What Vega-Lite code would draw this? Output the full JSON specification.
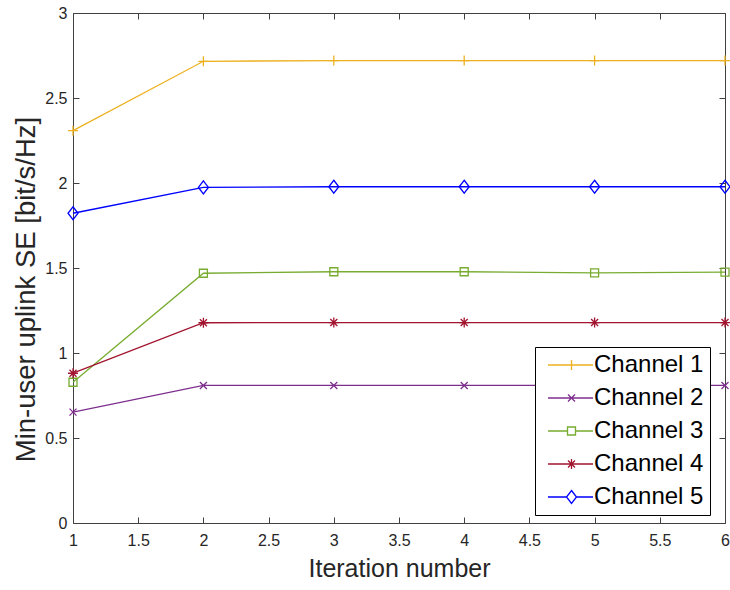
{
  "$schema": "https://vega.github.io/schema/vega-lite/v6.json",
  "width": 652,
  "height": 510,
  "autosize": {"type": "none"},
  "padding": {"left": 73, "top": 13, "right": 5, "bottom": 67},
  "background": "white",
  "data": {"values": [
    {"iter": 1, "channel": "Channel 1", "se": 2.308},
    {"iter": 2, "channel": "Channel 1", "se": 2.716},
    {"iter": 3, "channel": "Channel 1", "se": 2.72},
    {"iter": 4, "channel": "Channel 1", "se": 2.72},
    {"iter": 5, "channel": "Channel 1", "se": 2.72},
    {"iter": 6, "channel": "Channel 1", "se": 2.72},
    {"iter": 1, "channel": "Channel 2", "se": 0.652},
    {"iter": 2, "channel": "Channel 2", "se": 0.809},
    {"iter": 3, "channel": "Channel 2", "se": 0.809},
    {"iter": 4, "channel": "Channel 2", "se": 0.809},
    {"iter": 5, "channel": "Channel 2", "se": 0.809},
    {"iter": 6, "channel": "Channel 2", "se": 0.809},
    {"iter": 1, "channel": "Channel 3", "se": 0.828},
    {"iter": 2, "channel": "Channel 3", "se": 1.469},
    {"iter": 3, "channel": "Channel 3", "se": 1.478},
    {"iter": 4, "channel": "Channel 3", "se": 1.478},
    {"iter": 5, "channel": "Channel 3", "se": 1.471},
    {"iter": 6, "channel": "Channel 3", "se": 1.476},
    {"iter": 1, "channel": "Channel 4", "se": 0.881},
    {"iter": 2, "channel": "Channel 4", "se": 1.178},
    {"iter": 3, "channel": "Channel 4", "se": 1.179},
    {"iter": 4, "channel": "Channel 4", "se": 1.179},
    {"iter": 5, "channel": "Channel 4", "se": 1.179},
    {"iter": 6, "channel": "Channel 4", "se": 1.179},
    {"iter": 1, "channel": "Channel 5", "se": 1.822},
    {"iter": 2, "channel": "Channel 5", "se": 1.974},
    {"iter": 3, "channel": "Channel 5", "se": 1.978},
    {"iter": 4, "channel": "Channel 5", "se": 1.978},
    {"iter": 5, "channel": "Channel 5", "se": 1.978},
    {"iter": 6, "channel": "Channel 5", "se": 1.978}
  ]},
  "encoding": {
    "x": {"field": "iter", "type": "quantitative",
          "scale": {"domain": [1, 6], "nice": false, "zero": false}},
    "y": {"field": "se", "type": "quantitative",
          "scale": {"domain": [0, 3], "nice": false}},
    "color": {"field": "channel", "type": "nominal",
              "scale": {"domain": ["Channel 1", "Channel 2", "Channel 3", "Channel 4", "Channel 5"],
                        "range": ["#EDB120", "#7E2F8E", "#77AC30", "#A2142F", "#0000FF"]}}
  },
  "layer": [
    {
      "mark": {"type": "line", "strokeWidth": 1.3, "clip": false},
      "encoding": {
        "x": {"field": "iter", "type": "quantitative",
              "axis": {"orient": "bottom", "title": "Iteration number", "ticks": false,
                       "values": [1, 1.5, 2, 2.5, 3, 3.5, 4, 4.5, 5, 5.5, 6],
                       "format": "~g", "labelPadding": 9, "titlePadding": 8, "titleFontSize": 25}},
        "y": {"field": "se", "type": "quantitative",
              "axis": {"orient": "left", "title": "Min-user uplink SE [bit/s/Hz]", "ticks": false,
                       "values": [0, 0.5, 1, 1.5, 2, 2.5, 3],
                       "format": "~g", "labelPadding": 6, "titlePadding": 4,
                       "titleFontSize": 27.5, "titleY": 276}}
      }
    },
    {
      "transform": [{"filter": "datum.channel == 'Channel 1'"}],
      "mark": {"type": "point", "filled": false, "size": 100, "strokeWidth": 1.3, "opacity": 1, "clip": false,
               "shape": "M-1,0H1M0,-1V1"},
      "encoding": {
        "x": {"field": "iter", "type": "quantitative",
              "axis": {"orient": "top", "offset": -510, "title": null, "labels": false, "domain": false, "ticks": true,
                       "values": [1, 1.5, 2, 2.5, 3, 3.5, 4, 4.5, 5, 5.5, 6]}},
        "y": {"field": "se", "type": "quantitative",
              "axis": {"orient": "right", "offset": -652, "title": null, "labels": false, "domain": false, "ticks": true,
                       "values": [0, 0.5, 1, 1.5, 2, 2.5, 3]}}
      }
    },
    {
      "transform": [{"filter": "datum.channel == 'Channel 2'"}],
      "mark": {"type": "point", "filled": false, "size": 100, "strokeWidth": 1.3, "opacity": 1, "clip": false,
               "shape": "M-0.7,-0.7L0.7,0.7M-0.7,0.7L0.7,-0.7"},
      "encoding": {
        "x": {"field": "iter", "type": "quantitative",
              "axis": {"orient": "bottom", "offset": -510, "title": null, "labels": false, "domain": true, "ticks": true,
                       "values": [1, 1.5, 2, 2.5, 3, 3.5, 4, 4.5, 5, 5.5, 6]}},
        "y": {"field": "se", "type": "quantitative",
              "axis": {"orient": "left", "offset": -652, "title": null, "labels": false, "domain": true, "ticks": true,
                       "values": [0, 0.5, 1, 1.5, 2, 2.5, 3]}}
      }
    },
    {
      "transform": [{"filter": "datum.channel == 'Channel 3'"}],
      "mark": {"type": "point", "filled": false, "size": 100, "strokeWidth": 1.3, "opacity": 1, "clip": false,
               "shape": "M-0.8,-0.8H0.8V0.8H-0.8Z"},
      "encoding": {
        "x": {"field": "iter", "type": "quantitative", "axis": null},
        "y": {"field": "se", "type": "quantitative", "axis": null}
      }
    },
    {
      "transform": [{"filter": "datum.channel == 'Channel 4'"}],
      "mark": {"type": "point", "filled": false, "size": 100, "strokeWidth": 1.3, "opacity": 1, "clip": false,
               "shape": "M-1,0H1M0,-1V1M-0.7,-0.7L0.7,0.7M-0.7,0.7L0.7,-0.7"},
      "encoding": {
        "x": {"field": "iter", "type": "quantitative", "axis": null},
        "y": {"field": "se", "type": "quantitative", "axis": null}
      }
    },
    {
      "transform": [{"filter": "datum.channel == 'Channel 5'"}],
      "mark": {"type": "point", "filled": false, "size": 100, "strokeWidth": 1.3, "opacity": 1, "clip": false,
               "shape": "M0,-1.3L1,0L0,1.3L-1,0Z"},
      "encoding": {
        "x": {"field": "iter", "type": "quantitative", "axis": null},
        "y": {"field": "se", "type": "quantitative", "axis": null}
      }
    },
    {
      "mark": {"type": "point", "filled": false, "opacity": 0, "size": 100, "strokeWidth": 1.3},
      "encoding": {
        "x": {"field": "iter", "type": "quantitative", "axis": null},
        "y": {"field": "se", "type": "quantitative", "axis": null},
        "shape": {"field": "channel", "type": "nominal",
                  "scale": {"domain": ["Channel 1", "Channel 2", "Channel 3", "Channel 4", "Channel 5"],
                            "range": ["M-1,0H8M3.7,-1V1",
                                      "M-1,0H8M3,-0.7L4.4,0.7M3,0.7L4.4,-0.7",
                                      "M-1,0H2.9M4.5,0H8M2.9,-0.8H4.5V0.8H2.9Z",
                                      "M-1,0H8M3.7,-1V1M3,-0.7L4.4,0.7M3,0.7L4.4,-0.7",
                                      "M-1,0H2.7M4.7,0H8M3.7,-1.3L4.7,0L3.7,1.3L2.7,0Z"]}}
      }
    }
  ],
  "resolve": {"axis": {"x": "independent", "y": "independent"}},
  "config": {
    "view": {"stroke": null},
    "font": "Liberation Sans",
    "axis": {
      "grid": false,
      "domainColor": "#404040",
      "domainWidth": 1,
      "ticks": true,
      "tickColor": "#404040",
      "tickWidth": 1,
      "tickSize": 6,
      "labelFont": "Liberation Sans",
      "labelFontSize": 16,
      "labelColor": "#262626",
      "titleFont": "Liberation Sans",
      "titleFontSize": 24,
      "titleFontWeight": "normal",
      "titleColor": "#262626",
      "labelFlush": false,
      "labelOverlap": false
    },
    "legend": {
      "orient": "none",
      "legendX": 462,
      "legendY": 334,
      "title": null,
      "padding": 6,
      "strokeColor": "black",
      "fillColor": "white",
      "cornerRadius": 0,
      "symbolSize": 100,
      "symbolOpacity": 1,
      "symbolStrokeWidth": 1.3,
      "symbolFillColor": "transparent",
      "symbolOffset": 0,
      "labelOffset": 29,
      "labelFont": "Liberation Sans",
      "labelFontSize": 24,
      "labelColor": "black",
      "rowPadding": 9
    }
  }
}
